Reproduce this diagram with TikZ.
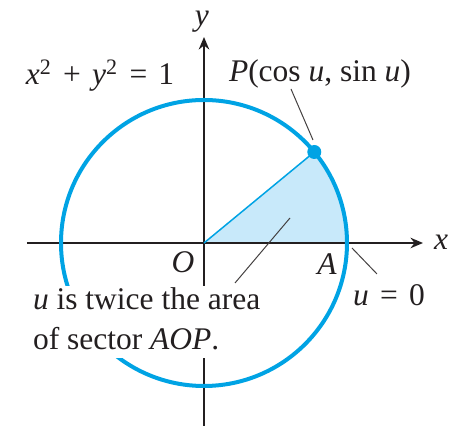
\documentclass[tikz,border=0pt]{standalone}
\usepackage{fontspec}
\setmainfont{Liberation Serif}
\usetikzlibrary{arrows.meta}
\definecolor{cyanline}{RGB}{0,163,228}
\definecolor{cyanfill}{RGB}{200,233,250}
\definecolor{inkc}{RGB}{35,31,32}
\newcommand{\opsp}{\hspace{1.3pt}}
\begin{document}
\begin{tikzpicture}[x=0.4pt,y=0.4pt,
  lbl/.style={font=\fontsize{12.6}{16}\selectfont, text=inkc, inner sep=0pt, anchor=base},
  axisline/.style={draw=inkc, line width=0.6pt, -{Stealth[length=5pt,width=4.2pt,inset=1.6pt]}},
  leader/.style={draw=inkc!85, line width=0.4pt},
  circ/.style={draw=cyanline, line width=1.6pt}]
\useasboundingbox (0,0) rectangle (449,426);
\coordinate (O) at (204,183);
\coordinate (A) at (347,183);
\coordinate (P) at (314.3,274);
% sector
\fill[cyanfill] (O) -- (A) arc[start angle=0, end angle=39.5, radius=143] -- cycle;
% axes
\coordinate (xs) at (27,183);
\coordinate (xe) at (423,183);
\coordinate (ys) at (204,0);
\coordinate (ye) at (204,389);
\draw[axisline] (xs) -- (xe);
\draw[axisline] (ys) -- (ye);
% circle
\draw[circ] (O) circle[radius=143];
\draw[draw=cyanline, line width=0.6pt] (O) -- (P);
% text block covering axis and circle
\node[lbl, anchor=base west, fill=white, inner xsep=1pt, inner ysep=-1.5pt] (note) at (30,116)
  {\begin{tabular}[t]{@{}l@{}}\textit{u} is twice the area\\ of sector \textit{AOP}.\end{tabular}};
% leaders
\coordinate (l1a) at (290,208);
\coordinate (l1b) at (235,143);
\draw[leader] (l1a) -- (l1b);
\coordinate (l2a) at (352,178);
\coordinate (l2b) at (377,152);
\draw[leader] (l2a) -- (l2b);
\coordinate (l3a) at (291,337);
\coordinate (l3b) at (313,286);
\draw[leader] (l3a) -- (l3b);
% dot
\fill[cyanline] (P) circle[radius=7];
% labels
\node[lbl] (ylab) at (202,400) {\textit{y}};
\node[lbl] (xlab) at (441,176) {\textit{x}};
\node[lbl] (olab) at (183,153) {\textit{O}};
\node[lbl] (alab) at (327,151) {\textit{A}};
\node[lbl] (u0) at (389,120) {\textit{u}\opsp{} = \opsp{}0};
\node[lbl] (plab) at (320,344) {\textit{P}(cos \textit{u}, sin \textit{u})};
\node[lbl] (eq) at (100,341) {\textit{x}\textsuperscript{2}\opsp{} + \opsp{}\textit{y}\textsuperscript{2}\opsp{} = \opsp{}1};
\end{tikzpicture}
\end{document}
